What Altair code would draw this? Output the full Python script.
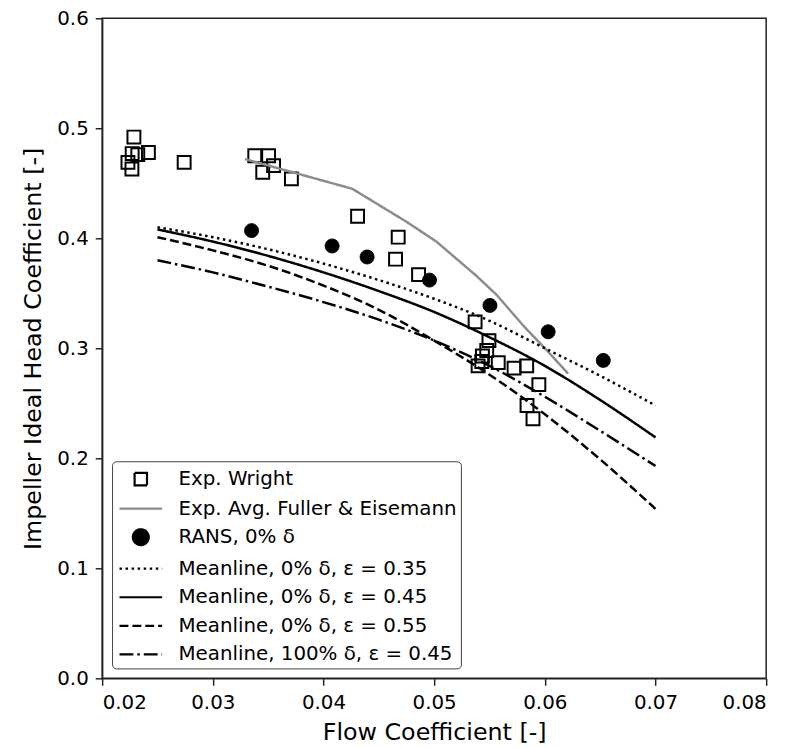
import altair as alt
import pandas as pd

# ---------------- data ----------------
series_names = [
    "Exp. Wright",
    "Exp. Avg. Fuller & Eisemann",
    "RANS, 0% δ",
    "Meanline, 0% δ, ε = 0.35",
    "Meanline, 0% δ, ε = 0.45",
    "Meanline, 0% δ, ε = 0.55",
    "Meanline, 100% δ, ε = 0.45",
]

wright_x = [0.02287, 0.02271, 0.02322, 0.02418, 0.02269, 0.02233, 0.02741,
            0.03379, 0.03504, 0.03549, 0.03451, 0.0371,
            0.04308, 0.04675, 0.04651, 0.04859,
            0.0537, 0.05495, 0.05475, 0.05436, 0.0543, 0.05397, 0.05579,
            0.05722, 0.05836, 0.05946, 0.05839, 0.05893]
wright_y = [0.492, 0.477, 0.476, 0.478, 0.463, 0.469, 0.469,
            0.475, 0.475, 0.466, 0.460, 0.454,
            0.420, 0.401, 0.381, 0.367,
            0.324, 0.307, 0.298, 0.293, 0.288, 0.284, 0.287,
            0.282, 0.284, 0.267, 0.248, 0.236]

fuller_x = [0.0329, 0.0426, 0.0475, 0.0502, 0.0538, 0.0556, 0.0582, 0.0602, 0.0621]
fuller_y = [0.472, 0.445, 0.415, 0.397, 0.366, 0.349, 0.319, 0.298, 0.277]

rans_x = [0.0335, 0.04078, 0.04394, 0.04958, 0.05504, 0.0603, 0.06528]
rans_y = [0.407, 0.393, 0.383, 0.362, 0.339, 0.315, 0.289]

meanline_x = [0.025, 0.030, 0.035, 0.040, 0.045, 0.050, 0.055, 0.060, 0.065, 0.070]
ml_035 = [0.410, 0.401, 0.390, 0.377, 0.362, 0.345, 0.325, 0.300, 0.275, 0.248]
ml_045 = [0.408, 0.397, 0.384, 0.369, 0.352, 0.333, 0.310, 0.284, 0.253, 0.219]
ml_055 = [0.401, 0.389, 0.375, 0.357, 0.335, 0.307, 0.276, 0.240, 0.199, 0.154]
ml_100_045 = [0.380, 0.369, 0.356, 0.342, 0.326, 0.307, 0.284, 0.256, 0.225, 0.193]

x_ticks = [0.02, 0.03, 0.04, 0.05, 0.06, 0.07, 0.08]
y_ticks = [0.0, 0.1, 0.2, 0.3, 0.4, 0.5, 0.6]

# ---------------- tables ----------------
df_wright = pd.DataFrame({"x": wright_x, "y": wright_y, "series": series_names[0]})
df_fuller = pd.DataFrame({"x": fuller_x, "y": fuller_y, "series": series_names[1]})
df_rans = pd.DataFrame({"x": rans_x, "y": rans_y, "series": series_names[2]})
df_ml = pd.concat([
    pd.DataFrame({"x": meanline_x, "y": ys, "series": name})
    for ys, name in zip([ml_035, ml_045, ml_055, ml_100_045], series_names[3:])
], ignore_index=True)

# ---------------- styles ----------------
sq_path = "M-0.5,-0.5L0.5,-0.5L0.5,0.5L-0.5,0.5Z"
circ_path = "M0.64,0A0.64,0.64 0 1,1 -0.64,0A0.64,0.64 0 1,1 0.64,0Z"
line_path = "M-1.72,0L1.72,0"

shape_range = [sq_path, line_path, circ_path, line_path, line_path, line_path, line_path]
stroke_range = ["black", "#8c8c8c", "black", "black", "black", "black", "black"]
fill_range = ["transparent", "transparent", "black", "transparent",
              "transparent", "transparent", "transparent"]
dash_range = [[1, 0], [1, 0], [1, 0], [2.5, 3.6], [1, 0], [9, 4], [14, 4, 2.5, 4]]

leg = alt.Legend(title=None)

x_enc = alt.X("x:Q", scale=alt.Scale(domain=[0.02, 0.08], nice=False, zero=False),
              axis=alt.Axis(values=x_ticks, format=".2f", title="Flow Coefficient [-]"))
y_enc = alt.Y("y:Q", scale=alt.Scale(domain=[0.0, 0.6], nice=False, zero=False),
              axis=alt.Axis(values=y_ticks, format=".1f",
                            title="Impeller Ideal Head Coefficient [-]"))

stroke_enc = alt.Stroke("series:N", scale=alt.Scale(domain=series_names, range=stroke_range), legend=leg)
fill_enc = alt.Fill("series:N", scale=alt.Scale(domain=series_names, range=fill_range), legend=leg)
shape_enc = alt.Shape("series:N", scale=alt.Scale(domain=series_names, range=shape_range), legend=leg)
dash_enc = alt.StrokeDash("series:N", scale=alt.Scale(domain=series_names, range=dash_range), legend=leg)

squares = alt.Chart(df_wright).mark_point(size=676, strokeWidth=2, opacity=1).encode(
    x=x_enc, y=y_enc, stroke=stroke_enc, fill=fill_enc, shape=shape_enc)

fuller = alt.Chart(df_fuller).mark_line(strokeWidth=2.5).encode(
    x=x_enc, y=y_enc, stroke=stroke_enc, strokeDash=dash_enc)

rans = alt.Chart(df_rans).mark_point(size=478, strokeWidth=1, opacity=1).encode(
    x=x_enc, y=y_enc, stroke=stroke_enc, fill=fill_enc, shape=shape_enc)

meanlines = alt.Chart(df_ml).mark_line(strokeWidth=2.5, interpolate="monotone").encode(
    x=x_enc, y=y_enc, stroke=stroke_enc, strokeDash=dash_enc)

chart = alt.layer(squares, fuller, rans, meanlines).properties(
    width=670, height=666,
    autosize=alt.AutoSizeParams(type="none"),
    padding={"left": 95, "top": 7, "right": 20, "bottom": 72},
).configure_view(
    stroke="#222", strokeWidth=1.5
).configure_axis(
    grid=False, domainColor="#222", domainWidth=1.5, tickColor="#222", tickWidth=1.5,
    tickSize=7, labelPadding=7, labelFont="DejaVu Sans", labelFontSize=20,
    labelColor="black", titleFont="DejaVu Sans", titleFontSize=24,
    titleFontWeight="normal", titleColor="black",
).configure_axisY(
    minExtent=46, maxExtent=46, titlePadding=11
).configure_axisX(
    titlePadding=9
).configure_legend(
    orient="bottom-left", offset=10, fillColor="white", strokeColor="#444",
    cornerRadius=4, padding=4, labelFont="DejaVu Sans", labelFontSize=20,
    labelColor="black", symbolSize=625, symbolStrokeWidth=2.2, symbolOffset=11,
    labelOffset=24, rowPadding=4.8, labelLimit=500,
)

chart.save("out.html", embed_options={"renderer": "svg", "actions": False})
